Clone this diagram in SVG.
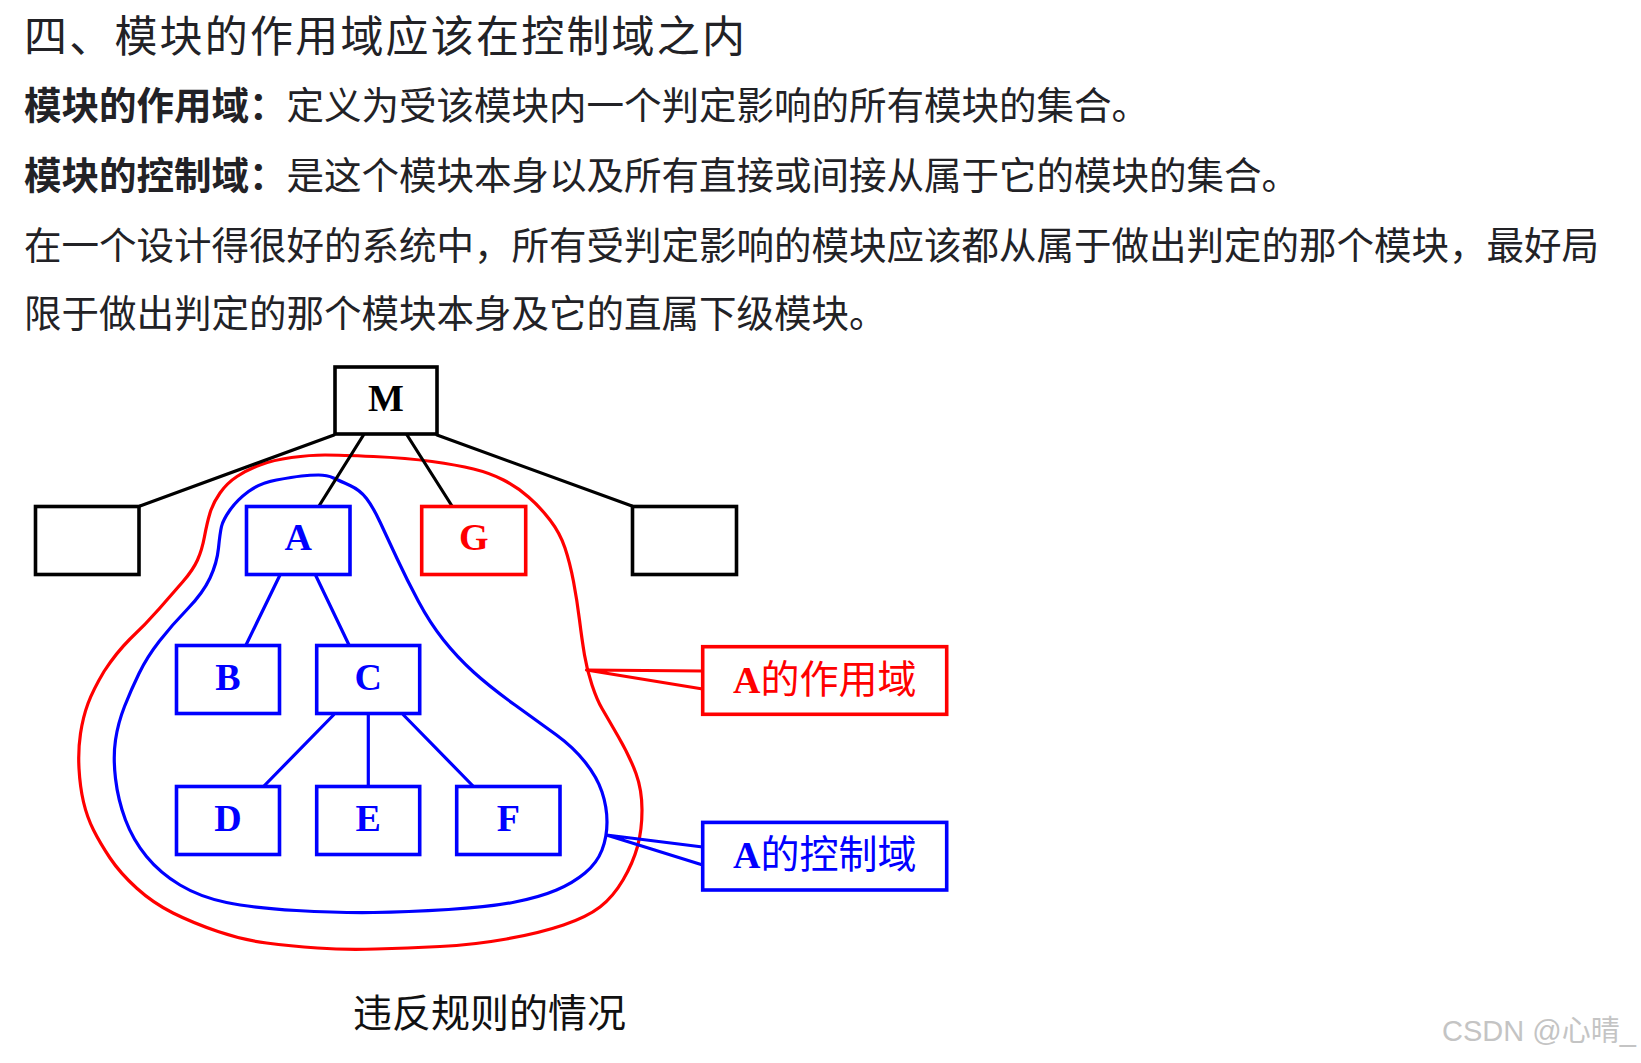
<svg xmlns="http://www.w3.org/2000/svg" width="1641" height="1063" viewBox="0 0 1641 1063">
<style>
.txt{font-family:"Noto Sans CJK SC","Noto Sans",sans-serif;fill:#222226;}
.b{font-weight:bold;}
.box{fill:#fff;stroke-width:3.6;}
.k{stroke:#000;}
.bl{stroke:#0000ff;}
.rd{stroke:#ff0000;}
.lbl{font-family:"Liberation Serif","Times New Roman",serif;font-weight:bold;font-size:38px;text-anchor:middle;}
.cjk{font-family:"Noto Sans CJK SC",sans-serif;font-weight:normal;font-size:39px;}
.ln{fill:none;stroke-width:3.2;stroke-linecap:round;stroke-linejoin:round;}
</style>
<rect x="0" y="0" width="1641" height="1063" fill="#fff"/>
<g id="header-text">
<text class="txt" x="24" y="52" font-size="43" letter-spacing="2.2">四、模块的作用域应该在控制域之内</text>
<text class="txt" x="24" y="119" font-size="37.5"><tspan class="b">模块的作用域：</tspan>定义为受该模块内一个判定影响的所有模块的集合。</text>
<text class="txt" x="24" y="189" font-size="37.5"><tspan class="b">模块的控制域：</tspan>是这个模块本身以及所有直接或间接从属于它的模块的集合。</text>
<text class="txt" x="24" y="259" font-size="37.5">在一个设计得很好的系统中，所有受判定影响的模块应该都从属于做出判定的那个模块，最好局</text>
<text class="txt" x="24" y="327" font-size="37.5">限于做出判定的那个模块本身及它的直属下级模块。</text>
</g>
<g id="regions">
<path id="scope-A" class="ln rd" d="M291.5,457.5 Q310,455 325,455 Q340,455 373.5,456.5 Q407,458 432,461.5 Q457,465 473.5,469 Q490,473 503.5,480 Q517,487 528.5,497 Q540,507 550,520 Q560,533 565,548 Q570,563 573.5,581.5 Q577,600 579.5,620 Q582,640 584.5,655 Q587,670 592,685 Q597,700 602,708.5 Q607,717 618.5,737 Q630,757 636,773.5 Q642,790 642,810 Q642,830 637.5,846.5 Q633,863 623,880 Q613,897 600,907 Q587,917 563.5,925 Q540,933 506.5,939 Q473,945 440,946.5 Q407,948 376,949 Q345,950 317.5,948 Q290,946 266.5,943 Q243,940 218,931.5 Q193,923 173,913 Q153,903 136.5,888 Q120,873 110,858 Q100,843 93.5,830 Q87,817 83.5,802 Q80,787 79,768.5 Q78,750 80.5,733.5 Q83,717 88,703.5 Q93,690 104,671.5 Q116,653 130,639 Q145,625 159,609 Q173,593 183,581.5 Q193,570 197.5,560 Q202,550 204.5,536.5 Q207,523 210,513 Q213,503 220,493 Q227,483 237,476.5 Q247,470 260,465 Q273,460 291.5,457.5 Z"/>
<path id="control-A" class="ln bl" d="M301.5,476 Q310,475 318.5,475 Q327,475 333.5,478 Q340,481 350,485.5 Q360,490 366.5,498.5 Q373,507 380,522 Q387,537 397,558.5 Q407,580 418.5,601.5 Q430,623 443.5,640 Q457,657 473.5,672 Q490,687 515,705 Q540,723 556.5,735 Q573,747 585,762 Q597,777 602,792 Q607,807 607,822 Q607,837 602,850 Q597,863 585,873 Q573,883 556.5,890 Q540,897 515,902 Q490,907 448.5,909.5 Q407,912 373.5,912.5 Q340,913 296.5,910.5 Q253,908 226.5,902.5 Q200,897 180,885 Q160,873 146.5,856.5 Q133,840 125.5,820 Q118,800 115.5,778.5 Q113,757 115.5,740 Q118,723 124.5,706.5 Q131,690 139,673.5 Q147,657 159.5,641 Q172,625 187.5,609 Q203,593 210,578 Q217,563 218.5,548 Q220,533 221.5,526.5 Q223,520 230,510 Q237,500 248.5,491.5 Q260,483 276.5,480 Q293,477 301.5,476 Z"/>
</g>
<g id="connectors">
<line class="ln k" x1="334" y1="435" x2="140" y2="506"/>
<line class="ln k" x1="363.5" y1="435" x2="319" y2="506"/>
<line class="ln k" x1="407" y1="435" x2="452" y2="506"/>
<line class="ln k" x1="437" y1="435" x2="632" y2="506"/>
<line class="ln bl" x1="280" y1="575" x2="246" y2="645"/>
<line class="ln bl" x1="315.5" y1="575" x2="349" y2="645"/>
<line class="ln bl" x1="333.5" y1="715" x2="264" y2="786"/>
<line class="ln bl" x1="368.3" y1="715" x2="368.3" y2="786"/>
<line class="ln bl" x1="403.5" y1="715" x2="473" y2="786"/>
<polyline class="ln rd" stroke-linecap="butt" points="702.7,671 586.5,670 702.7,689"/>
<polyline class="ln bl" stroke-linecap="butt" points="702.7,847 606.5,835 702.7,865"/>
</g>
<g id="node-M"><rect class="box k" x="335" y="367" width="102" height="67"/><text class="lbl" x="386" y="411" fill="#000">M</text></g>
<g id="node-left"><rect class="box k" x="35.5" y="506.5" width="103.5" height="68"/></g>
<g id="node-A"><rect class="box bl" x="246.5" y="506.5" width="103.5" height="68"/><text class="lbl" x="298.3" y="550" fill="#0000ff">A</text></g>
<g id="node-G"><rect class="box rd" x="421.7" y="506.5" width="104" height="68"/><text class="lbl" x="473.7" y="550" fill="#ff0000">G</text></g>
<g id="node-right"><rect class="box k" x="632.5" y="506.5" width="104" height="68"/></g>
<g id="node-B"><rect class="box bl" x="176.5" y="645.5" width="103" height="68"/><text class="lbl" x="228" y="690" fill="#0000ff">B</text></g>
<g id="node-C"><rect class="box bl" x="316.7" y="645.5" width="103" height="68"/><text class="lbl" x="368.2" y="690" fill="#0000ff">C</text></g>
<g id="node-D"><rect class="box bl" x="176.5" y="786.5" width="103" height="68"/><text class="lbl" x="228" y="831" fill="#0000ff">D</text></g>
<g id="node-E"><rect class="box bl" x="316.7" y="786.5" width="103" height="68"/><text class="lbl" x="368.2" y="831" fill="#0000ff">E</text></g>
<g id="node-F"><rect class="box bl" x="456.7" y="786.5" width="103.3" height="68"/><text class="lbl" x="508.3" y="831" fill="#0000ff">F</text></g>
<g id="label-scope"><rect class="box rd" x="702.7" y="646.7" width="244" height="67.6"/><text class="lbl" x="824.7" y="693" fill="#ff0000">A<tspan class="cjk">的作用域</tspan></text></g>
<g id="label-control"><rect class="box bl" x="702.7" y="822.4" width="244" height="67.6"/><text class="lbl" x="824.7" y="868" fill="#0000ff">A<tspan class="cjk">的控制域</tspan></text></g>
<g id="caption"><text x="353" y="1027" font-family="Noto Sans CJK SC,sans-serif" font-size="39" fill="#111">违反规则的情况</text></g>
<g id="watermark"><text x="1442" y="1041" font-family="Liberation Sans,Noto Sans CJK SC,sans-serif" font-size="29" fill="#c4c4c4">CSDN @心晴_</text></g>
</svg>
